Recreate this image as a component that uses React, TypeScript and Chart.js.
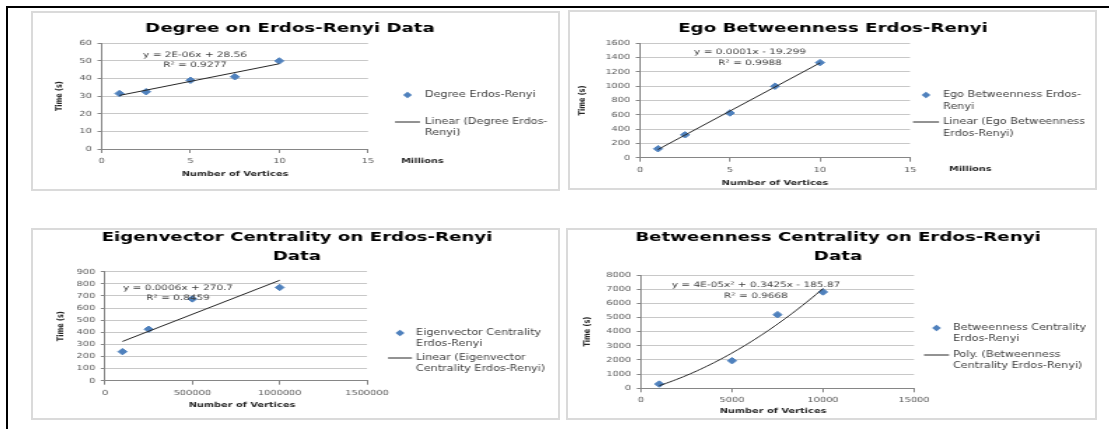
import React, { useEffect, useRef } from 'react';
import { Chart, registerables } from 'chart.js';

Chart.register(...registerables);

// ---------------- data ----------------
const degreeVertices = [1000000, 2500000, 5000000, 7500000, 10000000];
const degreeTimes = [31.5, 32.5, 39, 41, 50];
const egoVertices = [1000000, 2500000, 5000000, 7500000, 10000000];
const egoTimes = [125, 320, 625, 1000, 1330];
const eigenVertices = [100000, 250000, 500000, 1000000];
const eigenTimes = [240, 425, 675, 770];
const betweenVertices = [1000, 5000, 7500, 10000];
const betweenTimes = [300, 1950, 5200, 6800];

const degreeYTicks = [0, 10, 20, 30, 40, 50, 60];
const egoYTicks = [0, 200, 400, 600, 800, 1000, 1200, 1400, 1600];
const eigenYTicks = [0, 100, 200, 300, 400, 500, 600, 700, 800, 900];
const betweenYTicks = [0, 1000, 2000, 3000, 4000, 5000, 6000, 7000, 8000];
const millionsXTicks = [0, 5000000, 10000000, 15000000];
const eigenXTicks = [0, 500000, 1000000, 1500000];
const betweenXTicks = [0, 5000, 10000, 15000];

const degreeTitle = ['Degree on Erdos-Renyi Data'];
const egoTitle = ['Ego Betweenness Erdos-Renyi'];
const eigenTitle = ['Eigenvector Centrality on Erdos-Renyi', 'Data'];
const betweenTitle = ['Betweenness Centrality on Erdos-Renyi', 'Data'];

const degreeEquation = ['y = 2E-06x + 28.56', 'R\u00b2 = 0.9277'];
const egoEquation = ['y = 0.0001x - 19.299', 'R\u00b2 = 0.9988'];
const eigenEquation = ['y = 0.0006x + 270.7', 'R\u00b2 = 0.8459'];
const betweenEquation = ['y = 4E-05x\u00b2 + 0.3425x - 185.87', 'R\u00b2 = 0.9668'];

const degreeLegend = [['Degree Erdos-Renyi'], ['Linear (Degree Erdos-', 'Renyi)']];
const egoLegend = [['Ego Betweenness Erdos-', 'Renyi'], ['Linear (Ego Betweenness', 'Erdos-Renyi)']];
const eigenLegend = [['Eigenvector Centrality', 'Erdos-Renyi'], ['Linear (Eigenvector', 'Centrality Erdos-Renyi)']];
const betweenLegend = [['Betweenness Centrality', 'Erdos-Renyi'], ['Poly. (Betweenness', 'Centrality Erdos-Renyi)']];

const yAxisTitle = 'Time (s)';
const xAxisTitle = 'Number of Vertices';
const unitLabel = 'Millions';

// ---------------- style ----------------
const SX = 1.4;
const FONT = "'DejaVu Sans', sans-serif";
const BLUE = '#4f81bd';
const AXIS = '#868686';
const GRID = '#c8c8c8';
const TICK_TEXT = '#595959';
const TEXT = '#404040';
const YAXW = 30;
const XAXH = 20;

// ---------------- fits ----------------
function linearFit(xs: number[], ys: number[]) {
  const n = xs.length;
  const mx = xs.reduce((a, b) => a + b, 0) / n;
  const my = ys.reduce((a, b) => a + b, 0) / n;
  let sxx = 0, sxy = 0;
  for (let i = 0; i < n; i++) {
    sxx += (xs[i] - mx) * (xs[i] - mx);
    sxy += (xs[i] - mx) * (ys[i] - my);
  }
  const m = sxy / sxx;
  const c = my - m * mx;
  return (x: number) => m * x + c;
}

function quadFit(xs: number[], ys: number[]) {
  const s = Math.max(...xs.map(Math.abs));
  const u = xs.map((x) => x / s);
  const S = [0, 0, 0, 0, 0];
  const T = [0, 0, 0];
  for (let i = 0; i < u.length; i++) {
    for (let k = 0; k < 5; k++) S[k] += Math.pow(u[i], k);
    for (let k = 0; k < 3; k++) T[k] += Math.pow(u[i], k) * ys[i];
  }
  const A = [
    [S[0], S[1], S[2], T[0]],
    [S[1], S[2], S[3], T[1]],
    [S[2], S[3], S[4], T[2]],
  ];
  for (let i = 0; i < 3; i++) {
    for (let j = i + 1; j < 3; j++) {
      const f = A[j][i] / A[i][i];
      for (let k = i; k < 4; k++) A[j][k] -= f * A[i][k];
    }
  }
  const r = [0, 0, 0];
  for (let i = 2; i >= 0; i--) {
    let v = A[i][3];
    for (let k = i + 1; k < 3; k++) v -= A[i][k] * r[k];
    r[i] = v / A[i][i];
  }
  return (x: number) => r[0] + r[1] * (x / s) + r[2] * (x / s) * (x / s);
}

function trendPoints(xs: number[], ys: number[], kind: string) {
  const lo = Math.min(...xs);
  const hi = Math.max(...xs);
  if (kind === 'linear') {
    const f = linearFit(xs, ys);
    return [lo, hi].map((x) => ({ x, y: f(x) }));
  }
  const f = quadFit(xs, ys);
  const pts = [] as { x: number; y: number }[];
  const N = 48;
  for (let i = 0; i <= N; i++) {
    const x = lo + ((hi - lo) * i) / N;
    pts.push({ x, y: f(x) });
  }
  return pts;
}

// ---------------- panels (layout in page pixels) ----------------
const panels = [
  {
    key: 'degree', left: 31, top: 11, width: 529, height: 180,
    plot: { x0: 101.7, x1: 368, y0: 43.3, y1: 149 },
    xs: degreeVertices, ys: degreeTimes, xTicks: millionsXTicks, yTicks: degreeYTicks,
    xFmt: (v: number) => String(v / 1000000), fit: 'linear',
    title: degreeTitle, titleX: 290, titleY: [29],
    yTitleX: 60, xTitleX: 235, xTitleY: 174, unit: { x: 401, y: 161 },
    eq: degreeEquation, eqX: 195, eqY: [55, 65],
    legend: degreeLegend, lg: { x0: 395, x1: 420, text: 425, y1: [95], y2: [122, 133] },
  },
  {
    key: 'ego', left: 568, top: 10, width: 529, height: 180,
    plot: { x0: 640, x1: 910, y0: 43.3, y1: 157.7 },
    xs: egoVertices, ys: egoTimes, xTicks: millionsXTicks, yTicks: egoYTicks,
    xFmt: (v: number) => String(v / 1000000), fit: 'linear',
    title: egoTitle, titleX: 833, titleY: [29],
    yTitleX: 583, xTitleX: 775, xTitleY: 183, unit: { x: 949, y: 169 },
    eq: egoEquation, eqX: 750, eqY: [52, 63],
    legend: egoLegend, lg: { x0: 913, x1: 939, text: 943, y1: [95, 107], y2: [122, 134] },
  },
  {
    key: 'eigen', left: 31, top: 228, width: 529, height: 192,
    plot: { x0: 105, x1: 367, y0: 271.7, y1: 380.7 },
    xs: eigenVertices, ys: eigenTimes, xTicks: eigenXTicks, yTicks: eigenYTicks,
    xFmt: (v: number) => String(v), fit: 'linear',
    title: eigenTitle, titleX: 297, titleY: [237.5, 257],
    yTitleX: 61, xTitleX: 242, xTitleY: 405, unit: null,
    eq: eigenEquation, eqX: 178, eqY: [288, 298],
    legend: eigenLegend, lg: { x0: 388, x1: 412, text: 416, y1: [333, 344], y2: [358, 369] },
  },
  {
    key: 'between', left: 566, top: 228, width: 531, height: 192,
    plot: { x0: 641, x1: 914, y0: 275, y1: 388.3 },
    xs: betweenVertices, ys: betweenTimes, xTicks: betweenXTicks, yTicks: betweenYTicks,
    xFmt: (v: number) => String(v), fit: 'poly',
    title: betweenTitle, titleX: 838, titleY: [237.5, 257],
    yTitleX: 587, xTitleX: 773, xTitleY: 411.5, unit: null,
    eq: betweenEquation, eqX: 756, eqY: [285, 296],
    legend: betweenLegend, lg: { x0: 924, x1: 949, text: 953, y1: [328, 339], y2: [355, 366] },
  },
];

function Panel({ cfg }: { cfg: any }) {
  const ref = useRef<HTMLCanvasElement>(null);
  const cw = Math.round(cfg.width / SX);
  const ch = cfg.height;

  useEffect(() => {
    const canvas = ref.current;
    if (!canvas) return;
    const sx = cfg.width / cw;
    const P = (x: number) => (x - cfg.left) / sx;
    const Q = (y: number) => y - cfg.top;

    const plotL = P(cfg.plot.x0);
    const plotR = P(cfg.plot.x1);
    const plotT = Q(cfg.plot.y0);
    const plotB = Q(cfg.plot.y1);

    const decor = {
      id: 'decor' + cfg.key,
      afterDraw(chart: any) {
        const ctx = chart.ctx as CanvasRenderingContext2D;
        ctx.save();
        ctx.textBaseline = 'middle';
        // title
        ctx.fillStyle = '#000000';
        ctx.textAlign = 'center';
        ctx.font = `bold 13px ${FONT}`;
        cfg.title.forEach((t: string, i: number) => ctx.fillText(t, P(cfg.titleX), Q(cfg.titleY[i])));
        // axis titles
        ctx.fillStyle = '#262626';
        ctx.font = `bold 7px ${FONT}`;
        ctx.fillText(xAxisTitle, P(cfg.xTitleX), Q(cfg.xTitleY));
        ctx.save();
        ctx.translate(P(cfg.yTitleX), (plotT + plotB) / 2);
        ctx.rotate(-Math.PI / 2);
        ctx.font = `bold 6.5px ${FONT}`;
        ctx.fillText(yAxisTitle, 0, 0);
        ctx.restore();
        if (cfg.unit) {
          ctx.textAlign = 'left';
          ctx.font = `bold 7px ${FONT}`;
          ctx.fillText(unitLabel, P(cfg.unit.x), Q(cfg.unit.y));
        }
        // equation
        ctx.textAlign = 'center';
        ctx.fillStyle = TEXT;
        ctx.font = `7.5px ${FONT}`;
        cfg.eq.forEach((t: string, i: number) => ctx.fillText(t, P(cfg.eqX), Q(cfg.eqY[i])));
        // legend
        const lg = cfg.lg;
        const mx = P((lg.x0 + lg.x1) / 2);
        const my = Q(lg.y1[0]);
        const r = 3.2;
        ctx.fillStyle = BLUE;
        ctx.beginPath();
        ctx.moveTo(mx, my - r);
        ctx.lineTo(mx + r, my);
        ctx.lineTo(mx, my + r);
        ctx.lineTo(mx - r, my);
        ctx.closePath();
        ctx.fill();
        ctx.strokeStyle = '#262626';
        ctx.lineWidth = 1;
        ctx.beginPath();
        ctx.moveTo(P(lg.x0), Q(lg.y2[0]));
        ctx.lineTo(P(lg.x1), Q(lg.y2[0]));
        ctx.stroke();
        ctx.fillStyle = TEXT;
        ctx.textAlign = 'left';
        ctx.font = `8px ${FONT}`;
        cfg.legend[0].forEach((t: string, i: number) => ctx.fillText(t, P(lg.text), Q(lg.y1[i])));
        cfg.legend[1].forEach((t: string, i: number) => ctx.fillText(t, P(lg.text), Q(lg.y2[i])));
        ctx.restore();
      },
    };

    const tickFont = { family: FONT, size: 7 };
    const chart = new Chart(canvas, {
      type: 'scatter',
      data: {
        datasets: [
          {
            label: 'trend',
            data: trendPoints(cfg.xs, cfg.ys, cfg.fit),
            showLine: true,
            borderColor: '#262626',
            borderWidth: 1,
            pointRadius: 0,
            tension: 0,
            fill: false,
          } as any,
          {
            label: 'series',
            data: cfg.xs.map((x: number, i: number) => ({ x, y: cfg.ys[i] })),
            showLine: false,
            pointStyle: 'rectRot',
            pointRadius: 3.2,
            backgroundColor: BLUE,
            borderColor: BLUE,
            borderWidth: 1,
          } as any,
        ],
      },
      options: {
        animation: false,
        responsive: false,
        events: [],
        layout: {
          padding: {
            left: plotL - YAXW,
            right: cw - plotR,
            top: plotT,
            bottom: ch - plotB - XAXH,
          },
        },
        plugins: {
          legend: { display: false },
          tooltip: { enabled: false },
          title: { display: false },
        },
        scales: {
          x: {
            type: 'linear',
            min: cfg.xTicks[0],
            max: cfg.xTicks[cfg.xTicks.length - 1],
            afterBuildTicks: (axis: any) => {
              axis.ticks = cfg.xTicks.map((v: number) => ({ value: v }));
            },
            afterFit: (s: any) => {
              s.height = XAXH;
            },
            grid: { display: true, drawOnChartArea: false, drawTicks: true, tickLength: 4, tickColor: AXIS },
            border: { display: true, color: AXIS, width: 1 },
            ticks: {
              font: tickFont,
              color: TICK_TEXT,
              padding: 4,
              maxRotation: 0,
              autoSkip: false,
              callback: (v: any) => cfg.xFmt(Number(v)),
            },
          },
          y: {
            type: 'linear',
            min: cfg.yTicks[0],
            max: cfg.yTicks[cfg.yTicks.length - 1],
            afterBuildTicks: (axis: any) => {
              axis.ticks = cfg.yTicks.map((v: number) => ({ value: v }));
            },
            afterFit: (s: any) => {
              s.width = YAXW;
            },
            grid: { color: GRID, lineWidth: 1, drawTicks: true, tickLength: 3, tickColor: AXIS },
            border: { display: true, color: AXIS, width: 1 },
            ticks: {
              font: tickFont,
              color: TICK_TEXT,
              padding: 4,
              autoSkip: false,
              callback: (v: any) => String(v),
            },
          },
        },
      } as any,
      plugins: [decor],
    });
    return () => chart.destroy();
  }, []);

  return (
    <div style={{ position: 'absolute', left: cfg.left, top: cfg.top, width: cfg.width, height: cfg.height }}>
      <canvas
        ref={ref}
        width={cw}
        height={ch}
        style={{
          position: 'absolute',
          left: 0,
          top: 0,
          width: cfg.width + 'px',
          height: ch + 'px',
          filter: 'blur(0.3px)',
        }}
      />
      <div
        style={{
          position: 'absolute',
          left: 0,
          top: 0,
          width: cfg.width,
          height: cfg.height,
          boxSizing: 'border-box',
          border: '2px solid #dadada',
          pointerEvents: 'none',
        }}
      />
    </div>
  );
}

export default function App() {
  return (
    <div
      style={{
        position: 'fixed',
        left: 0,
        top: 0,
        width: 1109,
        height: 429,
        overflow: 'hidden',
        background: '#ffffff',
      }}
    >
      <div
        style={{
          position: 'absolute',
          left: 6,
          top: 6,
          width: 1200,
          height: 500,
          borderLeft: '2px solid #000',
          borderTop: '2px solid #000',
        }}
      />
      {panels.map((p) => (
        <Panel key={p.key} cfg={p} />
      ))}
    </div>
  );
}
